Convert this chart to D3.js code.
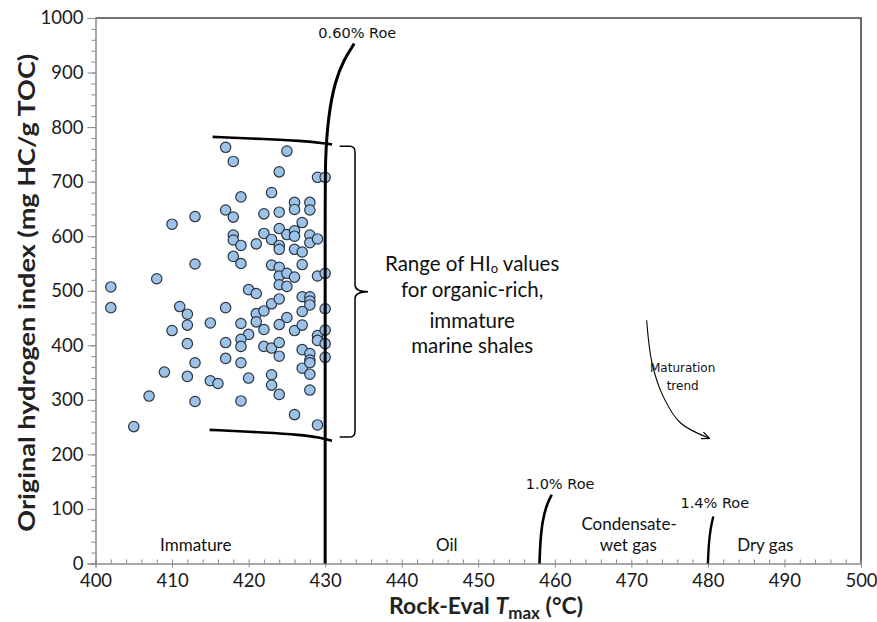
<!DOCTYPE html>
<html>
<head>
<meta charset="utf-8">
<script src="https://cdn.jsdelivr.net/npm/d3@7"></script>
<style>
  body { margin: 0; background: #fff; }
  text { font-family: Lato, "Open Sans", sans-serif; }
</style>
</head>
<body>
<script>
// Rock-Eval Tmax (°C) of each sample
var tmax = [402, 402, 405, 407, 408, 409, 410, 410, 411, 412, 412, 412, 412, 413, 413, 413, 413, 415, 415, 416,
  417, 418, 419, 417, 418, 422, 418, 418, 419, 421, 422, 418, 419, 420, 421, 417, 421, 422, 419, 421,
  420, 422, 417, 419, 419, 422, 417, 419, 420, 419, 423, 423, 423, 425, 424, 429, 430, 424, 426, 426,
  428, 428, 427, 424, 425, 426, 426, 428, 428, 429, 424, 424, 426, 427, 424, 427, 424, 425, 426, 429,
  430, 424, 425, 423, 424, 427, 428, 428, 428, 425, 427, 430, 424, 426, 427, 423, 424, 427, 428, 428,
  429, 429, 430, 430, 430, 424, 427, 428, 428, 423, 423, 424, 428, 426, 429];
// original hydrogen index (mg HC/g TOC) of each sample
var hio = [507, 469, 251, 307, 522, 351, 622, 427, 471, 457, 437, 403, 343, 636, 549, 368, 297, 441, 335, 330,
  763, 737, 672, 648, 635, 641, 602, 593, 583, 586, 605, 563, 550, 502, 495, 469, 458, 463, 440, 443,
  420, 429, 405, 411, 398, 398, 376, 368, 340, 298, 680, 594, 547, 756, 718, 708, 708, 644, 662, 649,
  662, 648, 625, 614, 603, 610, 600, 602, 588, 595, 583, 576, 576, 571, 543, 548, 527, 532, 525, 527,
  532, 511, 508, 476, 485, 489, 489, 481, 474, 451, 462, 467, 438, 427, 437, 395, 405, 392, 385, 373,
  418, 409, 428, 403, 378, 380, 358, 368, 347, 346, 327, 310, 318, 273, 254];

var xTicks = d3.range(400, 501, 10);
var yTicks = d3.range(0, 1001, 100);

// vitrinite reflectance lines and HIo range bounds, [Tmax, HI]
var roe060 = [[430, 0], [430, 650], [430, 740], [430.4, 820], [431.3, 885], [432.5, 925], [433.8, 953]];
var roe100 = [[458, 0], [458.1, 40], [458.4, 80], [459, 110], [459.6, 126]];
var roe140 = [[480, 0], [480.1, 35], [480.35, 65], [480.7, 86]];
var upperBound = [[415.3, 782], [422.4, 778], [426.7, 775], [430.2, 770], [430.9, 768]];
var lowerBound = [[414.9, 245], [422.4, 240], [426.7, 236], [429.3, 231], [430.9, 225]];
var trendArrow = [[472, 446], [472.7, 368], [474.2, 305], [476.4, 258], [480.1, 230]];

var margin = {top: 18, right: 16, bottom: 58.5, left: 95.5};
var size = {width: 877, height: 622};

var svg = d3.select("body").append("svg")
  .attr("width", size.width)
  .attr("height", size.height);

var x = d3.scaleLinear().domain([400, 500]).range([margin.left, size.width - margin.right]);
var y = d3.scaleLinear().domain([0, 1000]).range([size.height - margin.bottom, margin.top]);

// frame top & right
svg.append("path")
  .attr("d", "M" + x(400) + "," + y(1000) + "H" + x(500) + "V" + y(0))
  .attr("fill", "none").attr("stroke", "#444").attr("stroke-width", 1.6);

// axes
function styleAxis(g) {
  g.select(".domain").attr("stroke", "#8a8a8a");
  g.selectAll(".tick line").attr("stroke", "#8a8a8a");
  g.selectAll(".tick text").attr("fill", "#1a1a1a").style("font-size", "18.5px").style("font-family", "Lato, sans-serif");
}
svg.append("g").attr("transform", "translate(" + margin.left + ",0)")
  .call(d3.axisLeft(y).tickValues(d3.range(0, 1001, 20)).tickSize(4).tickFormat(""))
  .call(styleAxis);
svg.append("g").attr("transform", "translate(" + margin.left + ",0)")
  .call(d3.axisLeft(y).tickValues(yTicks).tickSize(8).tickPadding(4).tickFormat(d3.format("d")))
  .call(styleAxis);
svg.append("g").attr("transform", "translate(0," + y(0) + ")")
  .call(d3.axisBottom(x).tickValues(d3.range(400, 501, 2)).tickSize(-4).tickFormat(""))
  .call(styleAxis);
svg.append("g").attr("transform", "translate(0," + y(0) + ")")
  .call(d3.axisBottom(x).tickValues(xTicks).tickSize(4).tickPadding(6))
  .call(styleAxis);

// samples
svg.append("g").selectAll("circle")
  .data(tmax)
  .enter()
  .append("circle")
  .attr("cx", function(d) { return x(d); })
  .attr("cy", function(d, i) { return y(hio[i]); })
  .attr("r", 5.2)
  .attr("fill", "#9cc2e8")
  .attr("stroke", "#2b3440")
  .attr("stroke-width", 1.2);

var line = d3.line()
  .x(function(d) { return x(d[0]); })
  .y(function(d) { return y(d[1]); })
  .curve(d3.curveBasis);

function drawLine(pts, w) {
  svg.append("path").attr("d", line(pts))
    .attr("fill", "none").attr("stroke", "#000").attr("stroke-width", w);
}
drawLine(roe060, 3);
drawLine(roe100, 2.6);
drawLine(roe140, 2.4);
drawLine(upperBound, 2.6);
drawLine(lowerBound, 2.6);

// brace
var bx0 = x(431.9), bx1 = x(433.9), bx2 = x(435.6);
var by0 = y(765), by1 = y(498), by2 = y(232);
var brace = d3.path();
brace.moveTo(bx0, by0);
brace.lineTo(bx1 - 5, by0);
brace.quadraticCurveTo(bx1, by0, bx1, by0 + 6);
brace.lineTo(bx1, by1 - 7);
brace.quadraticCurveTo(bx1, by1, bx2, by1);
brace.quadraticCurveTo(bx1, by1, bx1, by1 + 7);
brace.lineTo(bx1, by2 - 6);
brace.quadraticCurveTo(bx1, by2, bx1 - 5, by2);
brace.lineTo(bx0, by2);
svg.append("path").attr("d", brace.toString())
  .attr("fill", "none").attr("stroke", "#000").attr("stroke-width", 1.5);

// maturation trend arrow
svg.append("defs").append("marker")
  .attr("id", "head").attr("viewBox", "0 0 10 10")
  .attr("refX", 8).attr("refY", 5)
  .attr("markerWidth", 8).attr("markerHeight", 8)
  .attr("orient", "auto")
  .append("path").attr("d", "M0,1 L9,5 L0,9").attr("fill", "none")
  .attr("stroke", "#000").attr("stroke-width", 1.4);
svg.append("path")
  .attr("d", d3.line().x(function(d) { return x(d[0]); }).y(function(d) { return y(d[1]); })
    .curve(d3.curveCatmullRom)(trendArrow))
  .attr("fill", "none").attr("stroke", "#000").attr("stroke-width", 1.1)
  .attr("marker-end", "url(#head)");

// annotations
function label(t, tx, hy, opts) {
  opts = opts || {};
  return svg.append("text")
    .attr("x", x(tx)).attr("y", y(hy))
    .attr("text-anchor", "middle")
    .style("font-family", opts.font || "Lato, sans-serif")
    .style("font-size", (opts.size || 17) + "px")
    .attr("fill", "#111")
    .text(t);
}
label("Immature", 413.1, 22);
label("Oil", 445.9, 22);
label("Condensate-", 469.7, 61);
label("wet gas", 469.6, 22);
label("Dry gas", 487.5, 22);

var vfont = "'DejaVu Sans', Verdana, sans-serif";
label("0.60% Roe", 434.2, 963, {font: vfont, size: 14.5});
label("1.0% Roe", 460.7, 137, {font: vfont, size: 14.5});
label("1.4% Roe", 480.9, 102, {font: vfont, size: 14.5});
label("Maturation", 476.7, 351, {font: vfont, size: 12});
label("trend", 476.7, 318, {font: vfont, size: 12});

var r1 = label("Range of HI", 449.2, 537, {size: 20.5});
r1.append("tspan").attr("dy", 2).style("font-size", "13px").text("o");
r1.append("tspan").attr("dy", -2).text(" values");
label("for organic-rich,", 449.2, 488, {size: 20.5});
label("immature", 449.2, 432, {size: 20.5});
label("marine shales", 449.2, 386, {size: 20.5});

// axis titles
var xt = svg.append("text")
  .attr("x", 486).attr("y", 614)
  .attr("text-anchor", "middle")
  .style("font-size", "23px").style("font-weight", "bold")
  .attr("fill", "#222");
xt.append("tspan").text("Rock-Eval  ");
xt.append("tspan").style("font-style", "italic").text("T");
xt.append("tspan").attr("dy", 5).style("font-size", "17px").text("max");
xt.append("tspan").attr("dy", -5).text(" (°C)");

svg.append("text")
  .attr("transform", "translate(35," + (y(500) + 2) + ") rotate(-90)")
  .attr("text-anchor", "middle")
  .attr("textLength", 478)
  .attr("lengthAdjust", "spacingAndGlyphs")
  .style("font-size", "23px").style("font-weight", "bold")
  .attr("fill", "#222")
  .text("Original hydrogen index (mg HC/g TOC)");
</script>
</body>
</html>
